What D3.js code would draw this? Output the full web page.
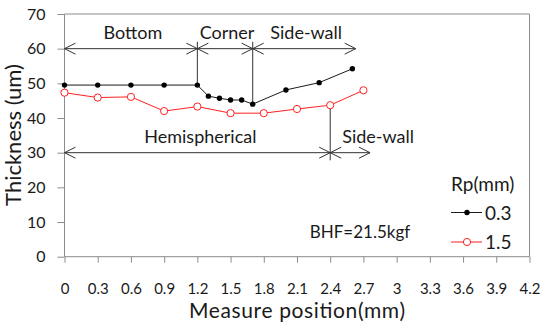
<!DOCTYPE html>
<html>
<head>
<meta charset="utf-8">
<script src="https://cdn.jsdelivr.net/npm/d3@7"></script>
<style>
  body { margin: 0; background: #fff; }
  text { font-family: Lato, "Open Sans", sans-serif; fill: #1a1a1a; }
</style>
</head>
<body>
<svg id="chart" width="542" height="323"></svg>
<script>
// measured thickness along the cup, two punch radii
var pos03 = [0, 0.3, 0.6, 0.9, 1.2, 1.3, 1.4, 1.5, 1.6, 1.7, 2.0, 2.3, 2.6];
var thick03 = [49.5, 49.5, 49.5, 49.5, 49.5, 46.3, 45.7, 45.2, 45.2, 44.0, 48.1, 50.2, 54.2];
var pos15 = [0, 0.3, 0.6, 0.9, 1.2, 1.5, 1.8, 2.1, 2.4, 2.7];
var thick15 = [47.3, 45.9, 46.1, 42.0, 43.3, 41.4, 41.4, 42.6, 43.7, 48.0];

var xTicks = [0, 0.3, 0.6, 0.9, 1.2, 1.5, 1.8, 2.1, 2.4, 2.7, 3, 3.3, 3.6, 3.9, 4.2];
var yTicks = [0, 10, 20, 30, 40, 50, 60, 70];

// region spans (x from, x to, at thickness level)
var regionNames = ["Bottom", "Corner", "Side-wall"];
var regionFrom = [0, 1.2, 1.7];
var regionTo = [1.2, 1.7, 2.63];
var regionLevel = 60;

var shapeNames = ["Hemispherical", "Side-wall"];
var shapeFrom = [0, 2.4];
var shapeTo = [2.4, 2.76];
var shapeLevel = 30;

var legendNames = ["0.3", "1.5"];

var svg = d3.select('#chart');

var mLeft = 64.5, mRight = 529.5, mTop = 14, mBottom = 256.7;
var x = d3.scaleLinear().domain([0, 4.2]).range([mLeft, mRight]);
var y = d3.scaleLinear().domain([0, 70]).range([mBottom, mTop]);

var axisCol = '#8c8c8c';

// plot frame (top + right)
svg.append('path')
    .attr('d', 'M' + mLeft + ',' + mTop + 'H' + mRight + 'V' + mBottom)
    .attr('fill', 'none').attr('stroke', axisCol);

var xAxis = svg.append('g')
    .attr('transform', 'translate(0,' + mBottom + ')')
    .call(d3.axisBottom(x).tickValues(xTicks).tickSize(6).tickPadding(21)
        .tickFormat(function(d) { return String(+d.toFixed(1)); }));
var yAxis = svg.append('g')
    .attr('transform', 'translate(' + mLeft + ',0)')
    .call(d3.axisLeft(y).tickValues(yTicks).tickSize(7).tickPadding(12));

[xAxis, yAxis].forEach(function(g) {
    g.select('.domain').attr('d', g === xAxis ?
        'M' + mLeft + ',0H' + mRight : 'M0,' + mTop + 'V' + mBottom);
    g.selectAll('path, line').attr('stroke', axisCol);
    g.selectAll('text').attr('font-size', g === xAxis ? 15 : 16).attr('fill', '#1a1a1a')
        .style('font-family', 'Lato, sans-serif');
});

svg.append('text')
    .attr('x', 297).attr('y', 318)
    .attr('text-anchor', 'middle').attr('font-size', 21)
    .attr('textLength', 216).attr('lengthAdjust', 'spacing')
    .text('Measure position(mm)');
svg.append('text')
    .attr('transform', 'translate(21,' + 135 + ') rotate(-90)')
    .attr('text-anchor', 'middle').attr('font-size', 22)
    .text('Thickness (um)');

// open chevron arrowhead at (px,py) pointing dir (+1 right, -1 left)
function chevron(px, py, dir) {
    return 'M' + (px - dir * 11) + ',' + (py - 5.5) + 'L' + px + ',' + py +
        'L' + (px - dir * 11) + ',' + (py + 5.5);
}

function drawSpans(names, from, to, level) {
    var py = y(level);
    names.forEach(function(name, i) {
        var a = x(from[i]), b = x(to[i]);
        svg.append('line').attr('x1', a).attr('x2', b).attr('y1', py).attr('y2', py)
            .attr('stroke', '#333').attr('stroke-width', 1);
        svg.append('path').attr('d', chevron(a, py, -1) + chevron(b, py, 1))
            .attr('fill', 'none').attr('stroke', '#333').attr('stroke-width', 1);
    });
}

drawSpans(regionNames, regionFrom, regionTo, regionLevel);
drawSpans(shapeNames, shapeFrom, shapeTo, shapeLevel);

regionNames.forEach(function(name, i) {
    svg.append('text')
        .attr('x', (x(regionFrom[i]) + x(regionTo[i])) / 2 + 2)
        .attr('y', y(regionLevel) - 10)
        .attr('text-anchor', 'middle').attr('font-size', 18)
        .text(name);
});
svg.append('text')
    .attr('x', (x(shapeFrom[0]) + x(shapeTo[0])) / 2 + 3)
    .attr('y', y(shapeLevel) - 10)
    .attr('text-anchor', 'middle').attr('font-size', 18)
    .text(shapeNames[0]);
svg.append('text')
    .attr('x', x(shapeFrom[1]) + 12)
    .attr('y', y(shapeLevel) - 10)
    .attr('font-size', 18)
    .text(shapeNames[1]);

// region dividers
function divider(px, v1, v2) {
    svg.append('line').attr('x1', x(px)).attr('x2', x(px))
        .attr('y1', y(v1)).attr('y2', y(v2))
        .attr('stroke', '#333').attr('stroke-width', 1);
}
divider(regionFrom[1], 62, thick03[4]);
divider(regionFrom[2], 62, thick03[9]);
divider(shapeFrom[1], thick15[8], 27.8);

var line = d3.line()
    .x(function(d) { return x(d[0]); })
    .y(function(d) { return y(d[1]); });

var data03 = d3.zip(pos03, thick03);
var data15 = d3.zip(pos15, thick15);

svg.append('path').datum(data03).attr('d', line)
    .attr('fill', 'none').attr('stroke', '#1a1a1a').attr('stroke-width', 1);
svg.append('path').datum(data15).attr('d', line)
    .attr('fill', 'none').attr('stroke', '#ff2020').attr('stroke-width', 1);

svg.selectAll('.p03').data(data03).enter().append('circle')
    .attr('class', 'p03')
    .attr('cx', function(d) { return x(d[0]); })
    .attr('cy', function(d) { return y(d[1]); })
    .attr('r', 2.7).attr('fill', '#000');
svg.selectAll('.p15').data(data15).enter().append('circle')
    .attr('class', 'p15')
    .attr('cx', function(d) { return x(d[0]); })
    .attr('cy', function(d) { return y(d[1]); })
    .attr('r', 3.6).attr('fill', '#fff').attr('stroke', '#ff2020').attr('stroke-width', 1);

svg.append('text')
    .attr('x', 360).attr('y', 238)
    .attr('text-anchor', 'middle').attr('font-size', 17)
    .text('BHF=21.5kgf');

// legend
var lg = svg.append('g').attr('transform', 'translate(451,0)');
lg.append('text').attr('x', 0).attr('y', 191).attr('font-size', 19).text('Rp(mm)');
var legY = [212.5, 242];
var legCol = ['#1a1a1a', '#ff2020'];
legendNames.forEach(function(name, i) {
    lg.append('line').attr('x1', 0).attr('x2', 31).attr('y1', legY[i]).attr('y2', legY[i])
        .attr('stroke', legCol[i]).attr('stroke-width', 1);
    if (i == 0) {
        lg.append('circle').attr('cx', 16).attr('cy', legY[i]).attr('r', 2.7).attr('fill', '#000');
    } else {
        lg.append('circle').attr('cx', 16).attr('cy', legY[i]).attr('r', 3.6)
            .attr('fill', '#fff').attr('stroke', legCol[i]);
    }
    lg.append('text').attr('x', 34).attr('y', legY[i] + 7).attr('font-size', 19).text(name);
});
</script>
</body>
</html>
